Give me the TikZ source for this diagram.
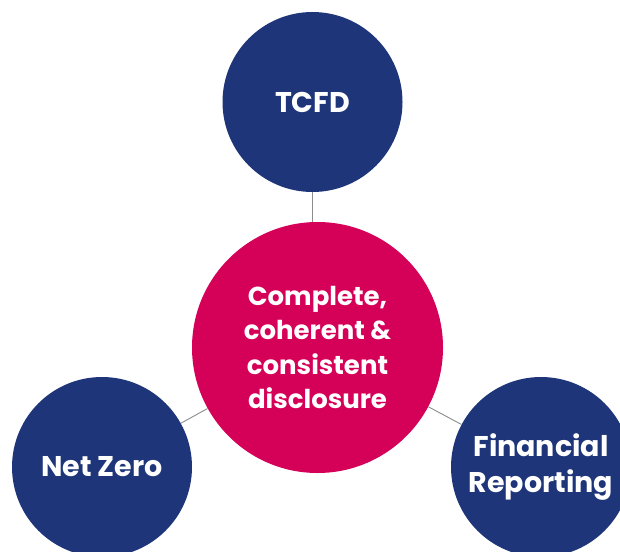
\documentclass[tikz,border=0pt]{standalone}
\usepackage{fontspec}
\setmainfont{Poppins}
\definecolor{azul}{HTML}{1E3679}
\definecolor{rosa}{HTML}{D50057}
\definecolor{gris}{HTML}{8C8C8C}
\begin{document}
\begin{tikzpicture}[x=1pt, y=-1pt,
  tema/.style={circle, fill=azul, minimum size=180pt, inner sep=0pt, text=white,
    align=center, font=\bfseries\fontsize{28.5}{36}\selectfont},
  centro/.style={circle, fill=rosa, minimum size=251pt, inner sep=0pt, text=white,
    align=center, font=\bfseries\fontsize{26}{34.5}\selectfont},
  enlace/.style={draw=gris, line width=0.9pt}]
  \useasboundingbox (0,0) rectangle (620,551);
  \clip (0,0) rectangle (620,551);
  % el círculo del centro
  \node[centro] (nucleo) at (317.5,347.5) {Complete,\\coherent \&\\consistent\\disclosure};
  % los tres temas alrededor
  \node[tema] (tcfd) at (312.5,102) {TCFD};
  \node[tema] (netzero) at (102,467) {Net Zero};
  \node[tema] (finanzas) at (541,467) {Financial\\Reporting};
  % las líneas que los unen
  \draw[enlace] (tcfd.south) -- (tcfd |- nucleo.north);
  \draw[enlace] (netzero) -- (nucleo);
  \draw[enlace] (finanzas) -- (nucleo);
\end{tikzpicture}
\end{document}
